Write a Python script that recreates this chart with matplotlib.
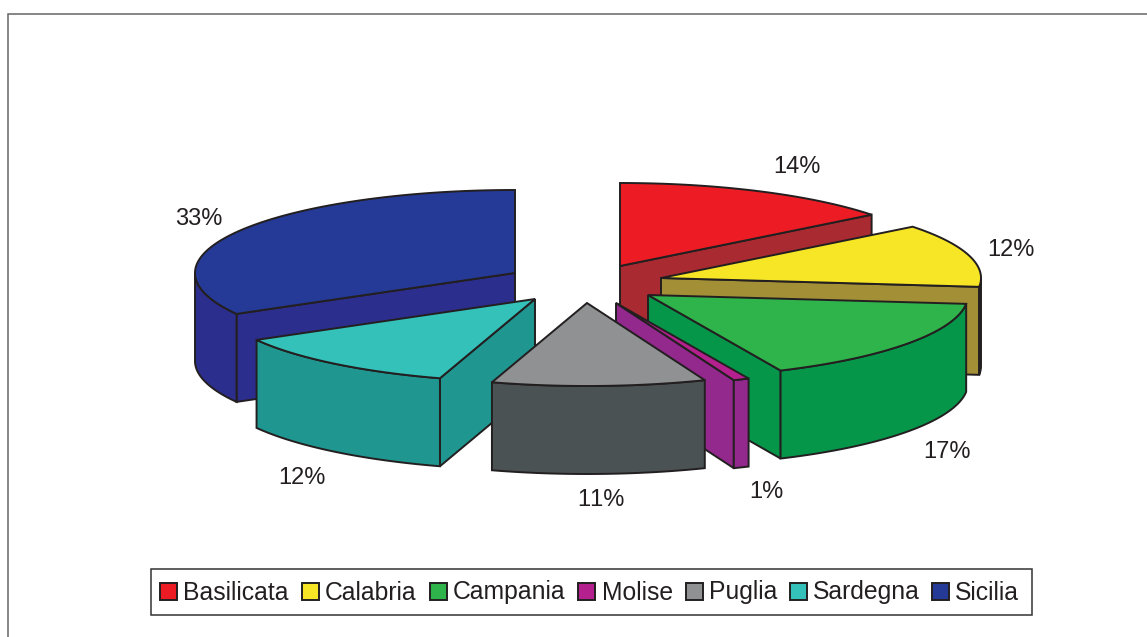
import numpy as np
import matplotlib
matplotlib.use("Agg")
import matplotlib.pyplot as plt
from matplotlib.patches import Polygon, Rectangle

plt.rcParams["text.kerning_factor"] = 16

categories = ["Basilicata", "Calabria", "Campania", "Molise", "Puglia", "Sardegna", "Sicilia"]
values = [14.4, 12.3, 16.5, 0.8, 10.8, 12.0, 33.2]
labels = ["14%", "12%", "17%", "1%", "11%", "12%", "33%"]

top_colors = ["#ed1c24", "#f7e625", "#2fb44c", "#b5208f", "#8f9192", "#33c1b9", "#253a96"]
side_colors = ["#a92a31", "#a28f36", "#05964a", "#93288d", "#4a5254", "#1f9690", "#2c2e8e"]
apex = [(620, 266), (661, 278), (648, 295), (616, 303), (587, 303), (535, 299), (515, 273)]
label_pos = [(797, 167), (1011, 250), (947, 452), (766, 492), (601, 500), (302, 478), (199, 219)]
legend_swatch_x = [160, 302, 430, 578, 686, 790, 932]
legend_text_x = [183, 325, 453, 602, 709, 813, 955]
draw_order = [6, 0, 1, 2, 3, 5, 4]

RX, RY, DEPTH = 320, 83, 88
INK = "#231f20"
FONT = "Liberation Sans"

fig = plt.figure(figsize=(11.47, 6.37), dpi=100)
ax = fig.add_axes([0, 0, 1, 1])
ax.set_xlim(0, 1147)
ax.set_ylim(637, 0)
ax.axis("off")

edges = np.cumsum([0] + values) / sum(values) * 360.0


def rim(center, a0, a1, drop=0.0):
    t = np.radians(np.linspace(a0, a1, max(2, int(abs(a1 - a0)) * 2)))
    return np.column_stack([center[0] + RX * np.sin(t),
                            center[1] - RY * np.cos(t) + drop])


def face(points, color, z):
    ax.add_patch(Polygon(points, closed=True, facecolor=color, edgecolor=INK,
                         linewidth=1.4, joinstyle="miter", zorder=z))


for z, i in enumerate(draw_order):
    a0, a1 = edges[i], edges[i + 1]
    c = apex[i]
    base = z * 10 + 1
    # radial cut walls that face the viewer
    for a, visible in ((a0, a0 > 180), (a1, a1 < 180)):
        if visible:
            p = rim(c, a, a)[0]
            face([c, p, (p[0], p[1] + DEPTH), (c[0], c[1] + DEPTH)], side_colors[i], base)
    # outer wall, front half of the ellipse only
    w0, w1 = max(a0, 90), min(a1, 270)
    if w1 > w0:
        face(np.vstack([rim(c, w0, w1), rim(c, w0, w1, DEPTH)[::-1]]), side_colors[i], base + 1)
    # top surface
    face(np.vstack([[c], rim(c, a0, a1)]), top_colors[i], base + 2)

for txt, (x, y) in zip(labels, label_pos):
    ax.text(x, y, txt, ha="center", va="center", fontsize=17, family=FONT, color=INK, zorder=200)

# legend
ax.add_patch(Rectangle((151, 569), 881, 46, facecolor="white", edgecolor="#333333",
                       linewidth=1.1, zorder=190))
for name, col, sx, tx in zip(categories, top_colors, legend_swatch_x, legend_text_x):
    ax.add_patch(Rectangle((sx, 583), 17, 17, facecolor=col, edgecolor=INK,
                           linewidth=1.4, zorder=200))
    ax.text(tx, 599.5, name, ha="left", va="baseline", fontsize=17.8, family=FONT,
            color=INK, zorder=200)

# outer frame
ax.plot([8, 8, 1147], [637, 14, 14], color="#666666", linewidth=1.1, zorder=180,
        solid_joinstyle="miter")

fig.savefig("out.png", dpi=100, facecolor="white")
